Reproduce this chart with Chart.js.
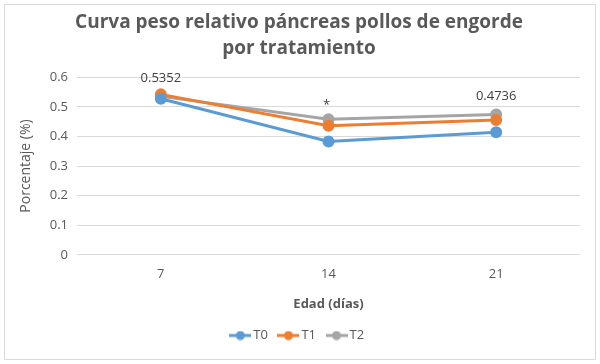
<!DOCTYPE html>
<html lang="es">
<head>
    <meta charset="UTF-8">
    <title>Curva peso relativo páncreas</title>
    <style>
        body {
            margin: 0;
            background: #fff;
        }
        canvas {
            display: block;
        }
    </style>
    <script src="https://cdn.jsdelivr.net/npm/chart.js"></script>
</head>
<body>

<canvas id="chart" width="600" height="364"></canvas>

<script>
    // datos
    const edades = ['7', '14', '21'];
    const t0 = [0.527, 0.383, 0.414];
    const t1 = [0.542, 0.436, 0.455];
    const t2 = [0.5352, 0.458, 0.4736];
    // etiquetas sobre la serie T2
    const etiquetasT2 = ['0.5352', '*', '0.4736'];
    const yTicks = [0, 0.1, 0.2, 0.3, 0.4, 0.5, 0.6];

    const fuente = "'Open Sans', 'Liberation Sans', sans-serif";
    const gris = '#595959';

    // icono de leyenda: linea con circulo
    function iconoLeyenda(color) {
        const c = document.createElement('canvas');
        c.width = 22;
        c.height = 10;
        const g = c.getContext('2d');
        g.strokeStyle = color;
        g.lineWidth = 3;
        g.beginPath();
        g.moveTo(0, 5);
        g.lineTo(22, 5);
        g.stroke();
        g.fillStyle = color;
        g.beginPath();
        g.arc(11, 5, 4.5, 0, Math.PI * 2);
        g.fill();
        return c;
    }

    const bordePlugin = {
        id: 'borde',
        beforeDraw(chart) {
            const ctx = chart.ctx;
            ctx.save();
            ctx.fillStyle = '#fff';
            ctx.fillRect(0, 0, chart.width, chart.height);
            ctx.strokeStyle = '#d9d9d9';
            ctx.lineWidth = 1;
            ctx.strokeRect(4.5, 4.5, 591, 355);
            ctx.restore();
        }
    };

    const etiquetasPlugin = {
        id: 'etiquetas',
        afterDatasetsDraw(chart) {
            const ctx = chart.ctx;
            const meta = chart.getDatasetMeta(2);
            ctx.save();
            ctx.fillStyle = '#404040';
            ctx.font = '13px ' + fuente;
            ctx.textAlign = 'center';
            ctx.textBaseline = 'bottom';
            meta.data.forEach((p, i) => {
                const txt = etiquetasT2[i];
                if (txt === '*') {
                    ctx.fillText(txt, p.x - 2, p.y - 7);
                } else {
                    ctx.fillText(txt, p.x, p.y - 12);
                }
            });
            ctx.restore();
        }
    };

    const serie = (label, data, color) => ({
        label: label,
        data: data,
        borderColor: color,
        backgroundColor: color,
        borderWidth: 3,
        pointRadius: 4.5,
        pointHoverRadius: 4.5,
        pointStyle: 'circle',
        pointBackgroundColor: color,
        pointBorderColor: color,
        tension: 0
    });

    const colores = ['#5b9bd5', '#ed7d31', '#a5a5a5'];

    new Chart(document.getElementById('chart').getContext('2d'), {
        type: 'line',
        data: {
            labels: edades,
            datasets: [
                serie('T0', t0, colores[0]),
                serie('T1', t1, colores[1]),
                serie('T2', t2, colores[2])
            ]
        },
        options: {
            responsive: false,
            animation: false,
            layout: {
                padding: { left: 18, right: 20, top: 8, bottom: 12 }
            },
            scales: {
                x: {
                    offset: true,
                    grid: { display: false },
                    border: { display: false },
                    ticks: { color: gris, font: { family: fuente, size: 13 }, padding: 4 },
                    title: {
                        display: true,
                        text: 'Edad (días)',
                        color: gris,
                        font: { family: fuente, size: 13, weight: 'bold' },
                        padding: { top: 10, bottom: 3 }
                    }
                },
                y: {
                    min: 0,
                    max: 0.6,
                    afterFit(scale) { scale.width = 59; },
                    afterBuildTicks(scale) { scale.ticks = yTicks.map(v => ({ value: v })); },
                    grid: { color: '#d9d9d9', drawTicks: false },
                    border: { display: false },
                    ticks: {
                        color: gris,
                        font: { family: fuente, size: 13 },
                        padding: 9,
                        callback: v => String(Number(v.toFixed(1)))
                    },
                    title: {
                        display: true,
                        text: 'Porcentaje (%)',
                        color: gris,
                        font: { family: fuente, size: 14 },
                        padding: { top: 0, bottom: 2 }
                    }
                }
            },
            plugins: {
                title: {
                    display: true,
                    text: ['Curva peso relativo páncreas pollos de engorde', 'por tratamiento'],
                    color: gris,
                    font: { family: fuente, size: 19, weight: 'bold', lineHeight: 1.4 },
                    padding: { top: 1, bottom: 15 }
                },
                legend: {
                    position: 'bottom',
                    labels: {
                        usePointStyle: true,
                        color: gris,
                        font: { family: fuente, size: 13 },
                        boxHeight: 10,
                        padding: 14,
                        generateLabels(chart) {
                            return chart.data.datasets.map((ds, i) => ({
                                text: ds.label,
                                fontColor: gris,
                                pointStyle: iconoLeyenda(colores[i]),
                                datasetIndex: i,
                                hidden: false,
                                lineWidth: 0
                            }));
                        }
                    }
                },
                tooltip: { enabled: false }
            }
        },
        plugins: [bordePlugin, etiquetasPlugin]
    });
</script>

</body>
</html>
